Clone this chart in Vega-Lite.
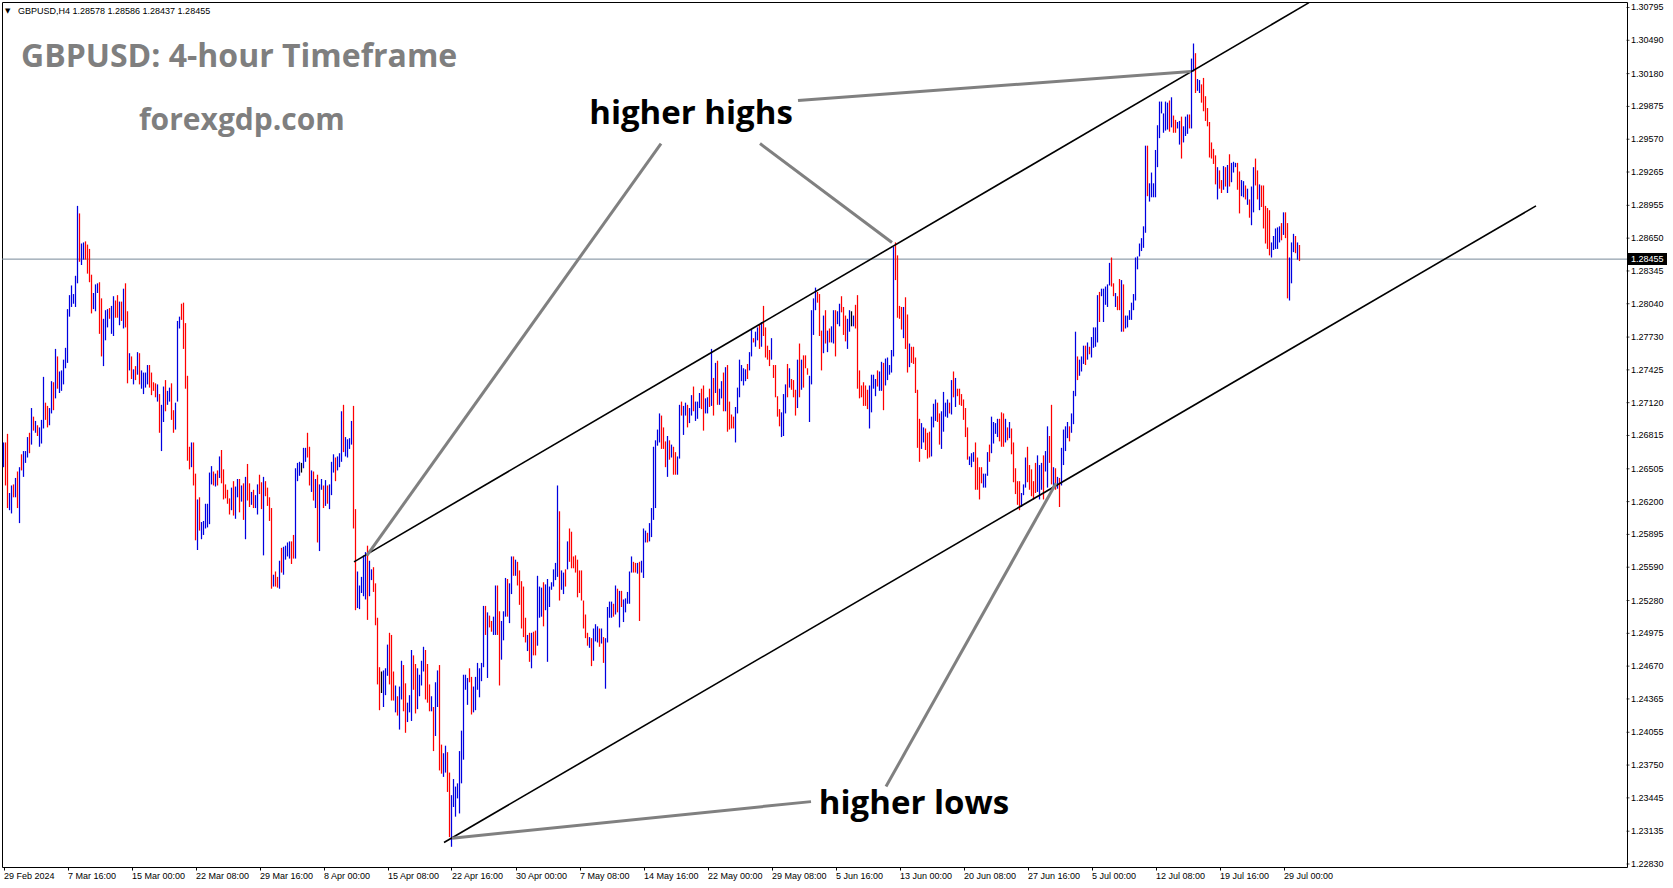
{
"$schema":"https://vega.github.io/schema/vega-lite/v6.json",
"width":1625,"height":865,
"autosize":{"type":"none"},
"padding":{"left":2,"top":2,"right":46,"bottom":21},
"background":"white",
"config":{"view":{"stroke":"#000","strokeWidth":1},"font":"Liberation Sans","axis":{"labelOverlap":false,"labelFlush":false,"labelBound":false}},
"datasets":{"bars":[
{"i":0,"h":1.2675,"l":1.2652,"t":"u"},{"i":1,"h":1.2675,"l":1.2635,"t":"d"},{"i":2,"h":1.2683,"l":1.2614,"t":"d"},{"i":3,"h":1.2628,"l":1.2612,"t":"u"},{"i":4,"h":1.2635,"l":1.2609,"t":"u"},{"i":5,"h":1.2636,"l":1.2624,"t":"d"},{"i":6,"h":1.2642,"l":1.2624,"t":"u"},{"i":7,"h":1.2648,"l":1.2614,"t":"d"},{"i":8,"h":1.2652,"l":1.2600,"t":"u"},{"i":9,"h":1.2664,"l":1.2649,"t":"d"},
{"i":10,"h":1.2667,"l":1.2643,"t":"u"},{"i":11,"h":1.2667,"l":1.2656,"t":"u"},{"i":12,"h":1.2680,"l":1.2661,"t":"u"},{"i":13,"h":1.2684,"l":1.2665,"t":"d"},{"i":14,"h":1.2707,"l":1.2673,"t":"u"},{"i":15,"h":1.2699,"l":1.2686,"t":"d"},{"i":16,"h":1.2695,"l":1.2684,"t":"u"},{"i":17,"h":1.2691,"l":1.2681,"t":"d"},{"i":18,"h":1.2689,"l":1.2671,"t":"u"},{"i":19,"h":1.2696,"l":1.2674,"t":"u"},
{"i":20,"h":1.2736,"l":1.2688,"t":"u"},{"i":21,"h":1.2712,"l":1.2696,"t":"d"},{"i":22,"h":1.2709,"l":1.2689,"t":"d"},{"i":23,"h":1.2707,"l":1.2691,"t":"u"},{"i":24,"h":1.2732,"l":1.2702,"t":"u"},{"i":25,"h":1.2731,"l":1.2705,"t":"d"},{"i":26,"h":1.2762,"l":1.2716,"t":"u"},{"i":27,"h":1.2755,"l":1.2725,"t":"d"},{"i":28,"h":1.2741,"l":1.2721,"t":"u"},{"i":29,"h":1.2742,"l":1.2723,"t":"u"},
{"i":30,"h":1.2752,"l":1.2729,"t":"u"},{"i":31,"h":1.2763,"l":1.2744,"t":"u"},{"i":32,"h":1.2799,"l":1.2749,"t":"u"},{"i":33,"h":1.2812,"l":1.2792,"t":"u"},{"i":34,"h":1.2821,"l":1.2801,"t":"u"},{"i":35,"h":1.2813,"l":1.2804,"t":"u"},{"i":36,"h":1.2830,"l":1.2801,"t":"u"},{"i":37,"h":1.2895,"l":1.2823,"t":"u"},{"i":38,"h":1.2888,"l":1.2843,"t":"d"},{"i":39,"h":1.2860,"l":1.2840,"t":"u"},
{"i":40,"h":1.2861,"l":1.2845,"t":"u"},{"i":41,"h":1.2862,"l":1.2845,"t":"d"},{"i":42,"h":1.2859,"l":1.2832,"t":"d"},{"i":43,"h":1.2855,"l":1.2824,"t":"d"},{"i":44,"h":1.2831,"l":1.2795,"t":"d"},{"i":45,"h":1.2814,"l":1.2799,"t":"u"},{"i":46,"h":1.2822,"l":1.2797,"t":"u"},{"i":47,"h":1.2823,"l":1.2814,"t":"u"},{"i":48,"h":1.2824,"l":1.2776,"t":"d"},{"i":49,"h":1.2809,"l":1.2755,"t":"d"},
{"i":50,"h":1.2790,"l":1.2746,"t":"u"},{"i":51,"h":1.2798,"l":1.2770,"t":"u"},{"i":52,"h":1.2799,"l":1.2782,"t":"u"},{"i":53,"h":1.2800,"l":1.2790,"t":"d"},{"i":54,"h":1.2802,"l":1.2776,"t":"u"},{"i":55,"h":1.2811,"l":1.2774,"t":"u"},{"i":56,"h":1.2807,"l":1.2791,"t":"d"},{"i":57,"h":1.2812,"l":1.2791,"t":"d"},{"i":58,"h":1.2806,"l":1.2784,"t":"u"},{"i":59,"h":1.2806,"l":1.2788,"t":"d"},
{"i":60,"h":1.2818,"l":1.2781,"t":"u"},{"i":61,"h":1.2823,"l":1.2782,"t":"d"},{"i":62,"h":1.2797,"l":1.2730,"t":"d"},{"i":63,"h":1.2758,"l":1.2742,"t":"u"},{"i":64,"h":1.2755,"l":1.2734,"t":"d"},{"i":65,"h":1.2743,"l":1.2729,"t":"u"},{"i":66,"h":1.2746,"l":1.2733,"t":"d"},{"i":67,"h":1.2759,"l":1.2738,"t":"u"},{"i":68,"h":1.2758,"l":1.2729,"t":"d"},{"i":69,"h":1.2742,"l":1.2725,"t":"u"},
{"i":70,"h":1.2740,"l":1.2720,"t":"u"},{"i":71,"h":1.2740,"l":1.2726,"t":"u"},{"i":72,"h":1.2747,"l":1.2729,"t":"u"},{"i":73,"h":1.2747,"l":1.2726,"t":"d"},{"i":74,"h":1.2740,"l":1.2719,"t":"d"},{"i":75,"h":1.2731,"l":1.2723,"t":"d"},{"i":76,"h":1.2730,"l":1.2717,"t":"d"},{"i":77,"h":1.2729,"l":1.2713,"t":"u"},{"i":78,"h":1.2720,"l":1.2684,"t":"d"},{"i":79,"h":1.2710,"l":1.2667,"t":"u"},
{"i":80,"h":1.2727,"l":1.2694,"t":"u"},{"i":81,"h":1.2733,"l":1.2704,"t":"d"},{"i":82,"h":1.2723,"l":1.2710,"t":"u"},{"i":83,"h":1.2726,"l":1.2713,"t":"u"},{"i":84,"h":1.2730,"l":1.2696,"t":"d"},{"i":85,"h":1.2705,"l":1.2684,"t":"d"},{"i":86,"h":1.2712,"l":1.2687,"t":"u"},{"i":87,"h":1.2788,"l":1.2713,"t":"u"},{"i":88,"h":1.2792,"l":1.2781,"t":"u"},{"i":89,"h":1.2804,"l":1.2789,"t":"d"},
{"i":90,"h":1.2805,"l":1.2762,"t":"d"},{"i":91,"h":1.2786,"l":1.2725,"t":"d"},{"i":92,"h":1.2737,"l":1.2658,"t":"d"},{"i":93,"h":1.2671,"l":1.2650,"t":"d"},{"i":94,"h":1.2675,"l":1.2652,"t":"u"},{"i":95,"h":1.2675,"l":1.2635,"t":"d"},{"i":96,"h":1.2646,"l":1.2584,"t":"d"},{"i":97,"h":1.2622,"l":1.2575,"t":"u"},{"i":98,"h":1.2624,"l":1.2593,"t":"d"},{"i":99,"h":1.2601,"l":1.2585,"t":"u"},
{"i":100,"h":1.2602,"l":1.2589,"t":"u"},{"i":101,"h":1.2618,"l":1.2595,"t":"u"},{"i":102,"h":1.2618,"l":1.2596,"t":"u"},{"i":103,"h":1.2647,"l":1.2599,"t":"u"},{"i":104,"h":1.2653,"l":1.2636,"t":"u"},{"i":105,"h":1.2648,"l":1.2635,"t":"d"},{"i":106,"h":1.2646,"l":1.2634,"t":"u"},{"i":107,"h":1.2649,"l":1.2635,"t":"d"},{"i":108,"h":1.2662,"l":1.2642,"t":"u"},{"i":109,"h":1.2668,"l":1.2637,"t":"d"},
{"i":110,"h":1.2650,"l":1.2622,"t":"d"},{"i":111,"h":1.2636,"l":1.2623,"t":"d"},{"i":112,"h":1.2631,"l":1.2618,"t":"d"},{"i":113,"h":1.2623,"l":1.2608,"t":"d"},{"i":114,"h":1.2633,"l":1.2612,"t":"u"},{"i":115,"h":1.2639,"l":1.2607,"t":"d"},{"i":116,"h":1.2634,"l":1.2604,"t":"u"},{"i":117,"h":1.2641,"l":1.2624,"t":"u"},{"i":118,"h":1.2641,"l":1.2610,"t":"d"},{"i":119,"h":1.2635,"l":1.2620,"t":"u"},
{"i":120,"h":1.2637,"l":1.2603,"t":"d"},{"i":121,"h":1.2643,"l":1.2585,"t":"u"},{"i":122,"h":1.2655,"l":1.2621,"t":"d"},{"i":123,"h":1.2637,"l":1.2615,"t":"d"},{"i":124,"h":1.2629,"l":1.2617,"t":"u"},{"i":125,"h":1.2631,"l":1.2614,"t":"d"},{"i":126,"h":1.2626,"l":1.2614,"t":"u"},{"i":127,"h":1.2636,"l":1.2608,"t":"u"},{"i":128,"h":1.2645,"l":1.2627,"t":"d"},{"i":129,"h":1.2638,"l":1.2613,"t":"d"},
{"i":130,"h":1.2643,"l":1.2570,"t":"u"},{"i":131,"h":1.2639,"l":1.2625,"t":"d"},{"i":132,"h":1.2633,"l":1.2616,"t":"d"},{"i":133,"h":1.2624,"l":1.2602,"t":"d"},{"i":134,"h":1.2614,"l":1.2539,"t":"d"},{"i":135,"h":1.2552,"l":1.2541,"t":"u"},{"i":136,"h":1.2555,"l":1.2541,"t":"d"},{"i":137,"h":1.2550,"l":1.2540,"t":"d"},{"i":138,"h":1.2565,"l":1.2539,"t":"u"},{"i":139,"h":1.2577,"l":1.2554,"t":"d"},
{"i":140,"h":1.2578,"l":1.2552,"t":"u"},{"i":141,"h":1.2579,"l":1.2566,"t":"u"},{"i":142,"h":1.2582,"l":1.2569,"t":"u"},{"i":143,"h":1.2583,"l":1.2567,"t":"u"},{"i":144,"h":1.2583,"l":1.2562,"t":"d"},{"i":145,"h":1.2589,"l":1.2567,"t":"d"},{"i":146,"h":1.2651,"l":1.2567,"t":"u"},{"i":147,"h":1.2656,"l":1.2639,"t":"u"},{"i":148,"h":1.2657,"l":1.2644,"t":"u"},{"i":149,"h":1.2656,"l":1.2647,"t":"n"},
{"i":150,"h":1.2670,"l":1.2651,"t":"u"},{"i":151,"h":1.2670,"l":1.2657,"t":"u"},{"i":152,"h":1.2684,"l":1.2661,"t":"d"},{"i":153,"h":1.2671,"l":1.2635,"t":"d"},{"i":154,"h":1.2649,"l":1.2629,"t":"u"},{"i":155,"h":1.2648,"l":1.2621,"t":"d"},{"i":156,"h":1.2641,"l":1.2614,"t":"u"},{"i":157,"h":1.2645,"l":1.2582,"t":"d"},{"i":158,"h":1.2636,"l":1.2574,"t":"u"},{"i":159,"h":1.2641,"l":1.2631,"t":"u"},
{"i":160,"h":1.2635,"l":1.2614,"t":"d"},{"i":161,"h":1.2640,"l":1.2616,"t":"u"},{"i":162,"h":1.2635,"l":1.2618,"t":"d"},{"i":163,"h":1.2636,"l":1.2613,"t":"u"},{"i":164,"h":1.2657,"l":1.2626,"t":"u"},{"i":165,"h":1.2664,"l":1.2647,"t":"u"},{"i":166,"h":1.2661,"l":1.2639,"t":"d"},{"i":167,"h":1.2662,"l":1.2649,"t":"u"},{"i":168,"h":1.2665,"l":1.2652,"t":"u"},{"i":169,"h":1.2704,"l":1.2657,"t":"u"},
{"i":170,"h":1.2710,"l":1.2666,"t":"d"},{"i":171,"h":1.2680,"l":1.2662,"t":"u"},{"i":172,"h":1.2678,"l":1.2661,"t":"u"},{"i":173,"h":1.2679,"l":1.2669,"t":"u"},{"i":174,"h":1.2695,"l":1.2673,"t":"u"},{"i":175,"h":1.2709,"l":1.2595,"t":"d"},{"i":176,"h":1.2613,"l":1.2519,"t":"d"},{"i":177,"h":1.2555,"l":1.2521,"t":"u"},{"i":178,"h":1.2542,"l":1.2520,"t":"u"},{"i":179,"h":1.2550,"l":1.2535,"t":"u"},
{"i":180,"h":1.2570,"l":1.2532,"t":"u"},{"i":181,"h":1.2573,"l":1.2529,"t":"u"},{"i":182,"h":1.2579,"l":1.2510,"t":"d"},{"i":183,"h":1.2565,"l":1.2532,"t":"u"},{"i":184,"h":1.2557,"l":1.2547,"t":"u"},{"i":185,"h":1.2559,"l":1.2536,"t":"d"},{"i":186,"h":1.2544,"l":1.2505,"t":"d"},{"i":187,"h":1.2512,"l":1.2450,"t":"d"},{"i":188,"h":1.2466,"l":1.2426,"t":"d"},{"i":189,"h":1.2462,"l":1.2442,"t":"n"},
{"i":190,"h":1.2463,"l":1.2429,"t":"u"},{"i":191,"h":1.2465,"l":1.2440,"t":"u"},{"i":192,"h":1.2487,"l":1.2458,"t":"u"},{"i":193,"h":1.2498,"l":1.2450,"t":"d"},{"i":194,"h":1.2496,"l":1.2435,"t":"d"},{"i":195,"h":1.2462,"l":1.2435,"t":"d"},{"i":196,"h":1.2449,"l":1.2424,"t":"u"},{"i":197,"h":1.2439,"l":1.2421,"t":"d"},{"i":198,"h":1.2448,"l":1.2408,"t":"u"},{"i":199,"h":1.2472,"l":1.2436,"t":"u"},
{"i":200,"h":1.2468,"l":1.2425,"t":"d"},{"i":201,"h":1.2451,"l":1.2405,"t":"d"},{"i":202,"h":1.2433,"l":1.2415,"t":"u"},{"i":203,"h":1.2440,"l":1.2424,"t":"u"},{"i":204,"h":1.2482,"l":1.2416,"t":"u"},{"i":205,"h":1.2477,"l":1.2445,"t":"d"},{"i":206,"h":1.2469,"l":1.2423,"t":"d"},{"i":207,"h":1.2465,"l":1.2427,"t":"u"},{"i":208,"h":1.2459,"l":1.2439,"t":"u"},{"i":209,"h":1.2472,"l":1.2449,"t":"u"},
{"i":210,"h":1.2485,"l":1.2462,"t":"u"},{"i":211,"h":1.2482,"l":1.2436,"t":"d"},{"i":212,"h":1.2469,"l":1.2433,"t":"d"},{"i":213,"h":1.2450,"l":1.2425,"t":"d"},{"i":214,"h":1.2439,"l":1.2425,"t":"u"},{"i":215,"h":1.2429,"l":1.2388,"t":"d"},{"i":216,"h":1.2452,"l":1.2402,"t":"u"},{"i":217,"h":1.2463,"l":1.2429,"t":"u"},{"i":218,"h":1.2468,"l":1.2370,"t":"d"},{"i":219,"h":1.2394,"l":1.2367,"t":"d"},
{"i":220,"h":1.2386,"l":1.2364,"t":"u"},{"i":221,"h":1.2393,"l":1.2368,"t":"u"},{"i":222,"h":1.2387,"l":1.2350,"t":"d"},{"i":223,"h":1.2368,"l":1.2308,"t":"d"},{"i":224,"h":1.2347,"l":1.2299,"t":"u"},{"i":225,"h":1.2362,"l":1.2336,"t":"u"},{"i":226,"h":1.2355,"l":1.2327,"t":"u"},{"i":227,"h":1.2358,"l":1.2344,"t":"u"},{"i":228,"h":1.2388,"l":1.2330,"t":"u"},{"i":229,"h":1.2407,"l":1.2358,"t":"u"},
{"i":230,"h":1.2459,"l":1.2380,"t":"u"},{"i":231,"h":1.2459,"l":1.2445,"t":"u"},{"i":232,"h":1.2456,"l":1.2431,"t":"u"},{"i":233,"h":1.2465,"l":1.2452,"t":"d"},{"i":234,"h":1.2457,"l":1.2422,"t":"d"},{"i":235,"h":1.2448,"l":1.2424,"t":"u"},{"i":236,"h":1.2457,"l":1.2426,"t":"u"},{"i":237,"h":1.2470,"l":1.2445,"t":"u"},{"i":238,"h":1.2465,"l":1.2438,"t":"u"},{"i":239,"h":1.2470,"l":1.2453,"t":"u"},
{"i":240,"h":1.2523,"l":1.2466,"t":"u"},{"i":241,"h":1.2523,"l":1.2496,"t":"d"},{"i":242,"h":1.2517,"l":1.2456,"t":"u"},{"i":243,"h":1.2514,"l":1.2503,"t":"d"},{"i":244,"h":1.2509,"l":1.2499,"t":"d"},{"i":245,"h":1.2513,"l":1.2496,"t":"u"},{"i":246,"h":1.2542,"l":1.2496,"t":"u"},{"i":247,"h":1.2542,"l":1.2496,"t":"d"},{"i":248,"h":1.2518,"l":1.2449,"t":"d"},{"i":249,"h":1.2509,"l":1.2473,"t":"u"},
{"i":250,"h":1.2518,"l":1.2491,"t":"u"},{"i":251,"h":1.2549,"l":1.2513,"t":"u"},{"i":252,"h":1.2548,"l":1.2513,"t":"d"},{"i":253,"h":1.2544,"l":1.2507,"t":"u"},{"i":254,"h":1.2569,"l":1.2534,"t":"u"},{"i":255,"h":1.2569,"l":1.2551,"t":"d"},{"i":256,"h":1.2566,"l":1.2551,"t":"u"},{"i":257,"h":1.2564,"l":1.2542,"t":"d"},{"i":258,"h":1.2556,"l":1.2524,"t":"d"},{"i":259,"h":1.2546,"l":1.2502,"t":"d"},
{"i":260,"h":1.2541,"l":1.2494,"t":"d"},{"i":261,"h":1.2512,"l":1.2489,"t":"d"},{"i":262,"h":1.2496,"l":1.2481,"t":"u"},{"i":263,"h":1.2498,"l":1.2471,"t":"d"},{"i":264,"h":1.2498,"l":1.2465,"t":"u"},{"i":265,"h":1.2499,"l":1.2477,"t":"d"},{"i":266,"h":1.2500,"l":1.2477,"t":"d"},{"i":267,"h":1.2551,"l":1.2486,"t":"u"},{"i":268,"h":1.2541,"l":1.2512,"t":"u"},{"i":269,"h":1.2540,"l":1.2513,"t":"u"},
{"i":270,"h":1.2545,"l":1.2504,"t":"d"},{"i":271,"h":1.2543,"l":1.2519,"t":"u"},{"i":272,"h":1.2548,"l":1.2471,"t":"u"},{"i":273,"h":1.2541,"l":1.2522,"t":"u"},{"i":274,"h":1.2545,"l":1.2538,"t":"u"},{"i":275,"h":1.2557,"l":1.2541,"t":"u"},{"i":276,"h":1.2563,"l":1.2547,"t":"u"},{"i":277,"h":1.2635,"l":1.2550,"t":"u"},{"i":278,"h":1.2611,"l":1.2528,"t":"d"},{"i":279,"h":1.2556,"l":1.2538,"t":"u"},
{"i":280,"h":1.2554,"l":1.2534,"t":"u"},{"i":281,"h":1.2557,"l":1.2541,"t":"d"},{"i":282,"h":1.2583,"l":1.2557,"t":"u"},{"i":283,"h":1.2595,"l":1.2564,"t":"d"},{"i":284,"h":1.2592,"l":1.2558,"t":"d"},{"i":285,"h":1.2569,"l":1.2558,"t":"d"},{"i":286,"h":1.2570,"l":1.2554,"t":"d"},{"i":287,"h":1.2566,"l":1.2531,"t":"d"},{"i":288,"h":1.2556,"l":1.2535,"t":"d"},{"i":289,"h":1.2556,"l":1.2528,"t":"d"},
{"i":290,"h":1.2528,"l":1.2502,"t":"d"},{"i":291,"h":1.2515,"l":1.2493,"t":"d"},{"i":292,"h":1.2498,"l":1.2486,"t":"d"},{"i":293,"h":1.2494,"l":1.2484,"t":"u"},{"i":294,"h":1.2493,"l":1.2467,"t":"d"},{"i":295,"h":1.2502,"l":1.2472,"t":"u"},{"i":296,"h":1.2506,"l":1.2490,"t":"u"},{"i":297,"h":1.2504,"l":1.2489,"t":"u"},{"i":298,"h":1.2502,"l":1.2485,"t":"d"},{"i":299,"h":1.2502,"l":1.2488,"t":"u"},
{"i":300,"h":1.2494,"l":1.2470,"t":"d"},{"i":301,"h":1.2493,"l":1.2446,"t":"u"},{"i":302,"h":1.2522,"l":1.2489,"t":"u"},{"i":303,"h":1.2527,"l":1.2512,"t":"u"},{"i":304,"h":1.2527,"l":1.2512,"t":"u"},{"i":305,"h":1.2525,"l":1.2513,"t":"d"},{"i":306,"h":1.2542,"l":1.2515,"t":"u"},{"i":307,"h":1.2539,"l":1.2517,"t":"d"},{"i":308,"h":1.2537,"l":1.2503,"t":"u"},{"i":309,"h":1.2537,"l":1.2522,"t":"d"},
{"i":310,"h":1.2529,"l":1.2508,"t":"u"},{"i":311,"h":1.2530,"l":1.2517,"t":"u"},{"i":312,"h":1.2536,"l":1.2525,"t":"u"},{"i":313,"h":1.2555,"l":1.2525,"t":"u"},{"i":314,"h":1.2569,"l":1.2554,"t":"u"},{"i":315,"h":1.2564,"l":1.2554,"t":"d"},{"i":316,"h":1.2563,"l":1.2554,"t":"d"},{"i":317,"h":1.2563,"l":1.2553,"t":"u"},{"i":318,"h":1.2564,"l":1.2509,"t":"d"},{"i":319,"h":1.2565,"l":1.2554,"t":"u"},
{"i":320,"h":1.2595,"l":1.2549,"t":"u"},{"i":321,"h":1.2593,"l":1.2582,"t":"u"},{"i":322,"h":1.2591,"l":1.2582,"t":"d"},{"i":323,"h":1.2600,"l":1.2583,"t":"u"},{"i":324,"h":1.2614,"l":1.2587,"t":"u"},{"i":325,"h":1.2671,"l":1.2603,"t":"u"},{"i":326,"h":1.2677,"l":1.2614,"t":"u"},{"i":327,"h":1.2687,"l":1.2672,"t":"u"},{"i":328,"h":1.2702,"l":1.2675,"t":"u"},{"i":329,"h":1.2700,"l":1.2669,"t":"d"},
{"i":330,"h":1.2689,"l":1.2669,"t":"d"},{"i":331,"h":1.2676,"l":1.2652,"t":"d"},{"i":332,"h":1.2681,"l":1.2643,"t":"u"},{"i":333,"h":1.2677,"l":1.2659,"t":"d"},{"i":334,"h":1.2673,"l":1.2661,"t":"u"},{"i":335,"h":1.2671,"l":1.2645,"t":"d"},{"i":336,"h":1.2666,"l":1.2645,"t":"d"},{"i":337,"h":1.2662,"l":1.2645,"t":"u"},{"i":338,"h":1.2710,"l":1.2660,"t":"u"},{"i":339,"h":1.2713,"l":1.2700,"t":"d"},
{"i":340,"h":1.2709,"l":1.2682,"t":"u"},{"i":341,"h":1.2712,"l":1.2700,"t":"u"},{"i":342,"h":1.2710,"l":1.2689,"t":"d"},{"i":343,"h":1.2707,"l":1.2693,"t":"u"},{"i":344,"h":1.2719,"l":1.2700,"t":"u"},{"i":345,"h":1.2727,"l":1.2704,"t":"d"},{"i":346,"h":1.2713,"l":1.2695,"t":"u"},{"i":347,"h":1.2713,"l":1.2697,"t":"u"},{"i":348,"h":1.2721,"l":1.2707,"t":"u"},{"i":349,"h":1.2725,"l":1.2706,"t":"d"},
{"i":350,"h":1.2728,"l":1.2686,"t":"d"},{"i":351,"h":1.2716,"l":1.2702,"t":"u"},{"i":352,"h":1.2717,"l":1.2702,"t":"u"},{"i":353,"h":1.2725,"l":1.2708,"t":"d"},{"i":354,"h":1.2762,"l":1.2709,"t":"u"},{"i":355,"h":1.2735,"l":1.2700,"t":"d"},{"i":356,"h":1.2749,"l":1.2721,"t":"u"},{"i":357,"h":1.2751,"l":1.2710,"t":"d"},{"i":358,"h":1.2725,"l":1.2710,"t":"u"},{"i":359,"h":1.2732,"l":1.2716,"t":"u"},
{"i":360,"h":1.2740,"l":1.2704,"t":"d"},{"i":361,"h":1.2745,"l":1.2704,"t":"u"},{"i":362,"h":1.2747,"l":1.2685,"t":"d"},{"i":363,"h":1.2713,"l":1.2687,"t":"d"},{"i":364,"h":1.2701,"l":1.2688,"t":"d"},{"i":365,"h":1.2699,"l":1.2688,"t":"d"},{"i":366,"h":1.2708,"l":1.2675,"t":"u"},{"i":367,"h":1.2726,"l":1.2702,"t":"u"},{"i":368,"h":1.2752,"l":1.2717,"t":"u"},{"i":369,"h":1.2747,"l":1.2732,"t":"u"},
{"i":370,"h":1.2744,"l":1.2728,"t":"u"},{"i":371,"h":1.2743,"l":1.2732,"t":"u"},{"i":372,"h":1.2748,"l":1.2734,"t":"d"},{"i":373,"h":1.2759,"l":1.2742,"t":"u"},{"i":374,"h":1.2780,"l":1.2755,"t":"u"},{"i":375,"h":1.2772,"l":1.2768,"t":"d"},{"i":376,"h":1.2778,"l":1.2764,"t":"u"},{"i":377,"h":1.2782,"l":1.2770,"t":"u"},{"i":378,"h":1.2785,"l":1.2762,"t":"d"},{"i":379,"h":1.2787,"l":1.2764,"t":"u"},
{"i":380,"h":1.2802,"l":1.2774,"t":"d"},{"i":381,"h":1.2782,"l":1.2754,"t":"d"},{"i":382,"h":1.2765,"l":1.2752,"t":"d"},{"i":383,"h":1.2761,"l":1.2746,"t":"d"},{"i":384,"h":1.2772,"l":1.2752,"t":"u"},{"i":385,"h":1.2747,"l":1.2735,"t":"d"},{"i":386,"h":1.2747,"l":1.2717,"t":"d"},{"i":387,"h":1.2718,"l":1.2699,"t":"d"},{"i":388,"h":1.2706,"l":1.2690,"t":"d"},{"i":389,"h":1.2703,"l":1.2680,"t":"u"},
{"i":390,"h":1.2720,"l":1.2681,"t":"u"},{"i":391,"h":1.2729,"l":1.2702,"t":"u"},{"i":392,"h":1.2748,"l":1.2717,"t":"d"},{"i":393,"h":1.2744,"l":1.2726,"t":"u"},{"i":394,"h":1.2734,"l":1.2724,"t":"d"},{"i":395,"h":1.2733,"l":1.2717,"t":"d"},{"i":396,"h":1.2724,"l":1.2700,"t":"d"},{"i":397,"h":1.2752,"l":1.2707,"t":"u"},{"i":398,"h":1.2767,"l":1.2717,"t":"d"},{"i":399,"h":1.2752,"l":1.2724,"t":"u"},
{"i":400,"h":1.2756,"l":1.2726,"t":"d"},{"i":401,"h":1.2756,"l":1.2744,"t":"d"},{"i":402,"h":1.2744,"l":1.2738,"t":"d"},{"i":403,"h":1.2737,"l":1.2694,"t":"u"},{"i":404,"h":1.2798,"l":1.2729,"t":"u"},{"i":405,"h":1.2809,"l":1.2775,"t":"u"},{"i":406,"h":1.2819,"l":1.2798,"t":"u"},{"i":407,"h":1.2815,"l":1.2805,"t":"d"},{"i":408,"h":1.2813,"l":1.2774,"t":"d"},{"i":409,"h":1.2779,"l":1.2742,"t":"d"},
{"i":410,"h":1.2793,"l":1.2758,"t":"u"},{"i":411,"h":1.2798,"l":1.2767,"t":"d"},{"i":412,"h":1.2779,"l":1.2759,"t":"u"},{"i":413,"h":1.2781,"l":1.2768,"t":"d"},{"i":414,"h":1.2783,"l":1.2768,"t":"u"},{"i":415,"h":1.2798,"l":1.2767,"t":"u"},{"i":416,"h":1.2798,"l":1.2755,"t":"d"},{"i":417,"h":1.2797,"l":1.2785,"t":"u"},{"i":418,"h":1.2804,"l":1.2783,"t":"u"},{"i":419,"h":1.2811,"l":1.2796,"t":"d"},
{"i":420,"h":1.2801,"l":1.2775,"t":"d"},{"i":421,"h":1.2793,"l":1.2769,"t":"d"},{"i":422,"h":1.2790,"l":1.2762,"t":"u"},{"i":423,"h":1.2798,"l":1.2778,"t":"u"},{"i":424,"h":1.2797,"l":1.2783,"t":"n"},{"i":425,"h":1.2793,"l":1.2783,"t":"u"},{"i":426,"h":1.2803,"l":1.2781,"t":"d"},{"i":427,"h":1.2812,"l":1.2725,"t":"d"},{"i":428,"h":1.2742,"l":1.2716,"t":"d"},{"i":429,"h":1.2728,"l":1.2717,"t":"d"},
{"i":430,"h":1.2731,"l":1.2709,"t":"d"},{"i":431,"h":1.2728,"l":1.2709,"t":"d"},{"i":432,"h":1.2724,"l":1.2706,"t":"d"},{"i":433,"h":1.2728,"l":1.2688,"t":"u"},{"i":434,"h":1.2738,"l":1.2703,"t":"u"},{"i":435,"h":1.2738,"l":1.2725,"t":"u"},{"i":436,"h":1.2734,"l":1.2718,"t":"u"},{"i":437,"h":1.2742,"l":1.2727,"t":"d"},{"i":438,"h":1.2741,"l":1.2723,"t":"u"},{"i":439,"h":1.2750,"l":1.2723,"t":"u"},
{"i":440,"h":1.2749,"l":1.2705,"t":"d"},{"i":441,"h":1.2753,"l":1.2728,"t":"u"},{"i":442,"h":1.2754,"l":1.2733,"t":"u"},{"i":443,"h":1.2747,"l":1.2738,"t":"u"},{"i":444,"h":1.2761,"l":1.2740,"t":"u"},{"i":445,"h":1.2857,"l":1.2755,"t":"u"},{"i":446,"h":1.2861,"l":1.2826,"t":"d"},{"i":447,"h":1.2849,"l":1.2791,"t":"d"},{"i":448,"h":1.2802,"l":1.2790,"t":"d"},{"i":449,"h":1.2801,"l":1.2780,"t":"d"},
{"i":450,"h":1.2801,"l":1.2772,"t":"u"},{"i":451,"h":1.2810,"l":1.2762,"t":"d"},{"i":452,"h":1.2794,"l":1.2740,"t":"d"},{"i":453,"h":1.2767,"l":1.2745,"t":"u"},{"i":454,"h":1.2764,"l":1.2749,"t":"d"},{"i":455,"h":1.2764,"l":1.2748,"t":"d"},{"i":456,"h":1.2754,"l":1.2721,"t":"d"},{"i":457,"h":1.2724,"l":1.2670,"t":"d"},{"i":458,"h":1.2697,"l":1.2657,"t":"d"},{"i":459,"h":1.2693,"l":1.2669,"t":"u"},
{"i":460,"h":1.2689,"l":1.2675,"t":"u"},{"i":461,"h":1.2688,"l":1.2668,"t":"d"},{"i":462,"h":1.2684,"l":1.2660,"t":"d"},{"i":463,"h":1.2685,"l":1.2661,"t":"d"},{"i":464,"h":1.2699,"l":1.2662,"t":"u"},{"i":465,"h":1.2711,"l":1.2689,"t":"u"},{"i":466,"h":1.2715,"l":1.2695,"t":"u"},{"i":467,"h":1.2712,"l":1.2694,"t":"d"},{"i":468,"h":1.2702,"l":1.2673,"t":"d"},{"i":469,"h":1.2704,"l":1.2669,"t":"u"},
{"i":470,"h":1.2722,"l":1.2685,"t":"u"},{"i":471,"h":1.2712,"l":1.2699,"t":"u"},{"i":472,"h":1.2715,"l":1.2698,"t":"u"},{"i":473,"h":1.2712,"l":1.2702,"t":"d"},{"i":474,"h":1.2733,"l":1.2701,"t":"u"},{"i":475,"h":1.2741,"l":1.2717,"t":"d"},{"i":476,"h":1.2735,"l":1.2708,"t":"u"},{"i":477,"h":1.2725,"l":1.2718,"t":"d"},{"i":478,"h":1.2725,"l":1.2710,"t":"d"},{"i":479,"h":1.2720,"l":1.2709,"t":"d"},
{"i":480,"h":1.2715,"l":1.2696,"t":"d"},{"i":481,"h":1.2707,"l":1.2680,"t":"d"},{"i":482,"h":1.2689,"l":1.2659,"t":"d"},{"i":483,"h":1.2662,"l":1.2654,"t":"u"},{"i":484,"h":1.2665,"l":1.2652,"t":"u"},{"i":485,"h":1.2666,"l":1.2657,"t":"u"},{"i":486,"h":1.2675,"l":1.2631,"t":"d"},{"i":487,"h":1.2661,"l":1.2631,"t":"d"},{"i":488,"h":1.2652,"l":1.2622,"t":"d"},{"i":489,"h":1.2652,"l":1.2637,"t":"d"},
{"i":490,"h":1.2646,"l":1.2633,"t":"u"},{"i":491,"h":1.2646,"l":1.2633,"t":"u"},{"i":492,"h":1.2666,"l":1.2644,"t":"u"},{"i":493,"h":1.2673,"l":1.2657,"t":"d"},{"i":494,"h":1.2699,"l":1.2665,"t":"u"},{"i":495,"h":1.2694,"l":1.2674,"t":"u"},{"i":496,"h":1.2693,"l":1.2683,"t":"u"},{"i":497,"h":1.2697,"l":1.2680,"t":"u"},{"i":498,"h":1.2697,"l":1.2676,"t":"d"},{"i":499,"h":1.2703,"l":1.2671,"t":"d"},
{"i":500,"h":1.2702,"l":1.2671,"t":"d"},{"i":501,"h":1.2697,"l":1.2675,"t":"u"},{"i":502,"h":1.2689,"l":1.2677,"t":"d"},{"i":503,"h":1.2694,"l":1.2679,"t":"u"},{"i":504,"h":1.2688,"l":1.2664,"t":"d"},{"i":505,"h":1.2675,"l":1.2638,"t":"d"},{"i":506,"h":1.2651,"l":1.2627,"t":"d"},{"i":507,"h":1.2639,"l":1.2617,"t":"d"},{"i":508,"h":1.2639,"l":1.2612,"t":"d"},{"i":509,"h":1.2628,"l":1.2615,"t":"u"},
{"i":510,"h":1.2636,"l":1.2626,"t":"u"},{"i":511,"h":1.2661,"l":1.2633,"t":"u"},{"i":512,"h":1.2671,"l":1.2638,"t":"d"},{"i":513,"h":1.2654,"l":1.2631,"t":"d"},{"i":514,"h":1.2650,"l":1.2625,"t":"d"},{"i":515,"h":1.2639,"l":1.2622,"t":"d"},{"i":516,"h":1.2656,"l":1.2628,"t":"d"},{"i":517,"h":1.2663,"l":1.2629,"t":"u"},{"i":518,"h":1.2654,"l":1.2622,"t":"u"},{"i":519,"h":1.2656,"l":1.2631,"t":"u"},
{"i":520,"h":1.2663,"l":1.2622,"t":"d"},{"i":521,"h":1.2667,"l":1.2648,"t":"u"},{"i":522,"h":1.2690,"l":1.2633,"t":"u"},{"i":523,"h":1.2681,"l":1.2656,"t":"d"},{"i":524,"h":1.2710,"l":1.2636,"t":"d"},{"i":525,"h":1.2652,"l":1.2633,"t":"u"},{"i":526,"h":1.2651,"l":1.2631,"t":"d"},{"i":527,"h":1.2643,"l":1.2632,"t":"u"},{"i":528,"h":1.2642,"l":1.2615,"t":"d"},{"i":529,"h":1.2670,"l":1.2635,"t":"u"},
{"i":530,"h":1.2687,"l":1.2654,"t":"u"},{"i":531,"h":1.2690,"l":1.2667,"t":"u"},{"i":532,"h":1.2694,"l":1.2679,"t":"u"},{"i":533,"h":1.2690,"l":1.2676,"t":"d"},{"i":534,"h":1.2702,"l":1.2684,"t":"u"},{"i":535,"h":1.2723,"l":1.2692,"t":"u"},{"i":536,"h":1.2778,"l":1.2718,"t":"u"},{"i":537,"h":1.2755,"l":1.2733,"t":"d"},{"i":538,"h":1.2752,"l":1.2737,"t":"u"},{"i":539,"h":1.2755,"l":1.2741,"t":"u"},
{"i":540,"h":1.2765,"l":1.2748,"t":"u"},{"i":541,"h":1.2765,"l":1.2747,"t":"d"},{"i":542,"h":1.2768,"l":1.2752,"t":"u"},{"i":543,"h":1.2764,"l":1.2757,"t":"d"},{"i":544,"h":1.2773,"l":1.2754,"t":"u"},{"i":545,"h":1.2782,"l":1.2763,"t":"u"},{"i":546,"h":1.2782,"l":1.2764,"t":"u"},{"i":547,"h":1.2812,"l":1.2768,"t":"u"},{"i":548,"h":1.2815,"l":1.2787,"t":"d"},{"i":549,"h":1.2818,"l":1.2811,"t":"u"},
{"i":550,"h":1.2818,"l":1.2787,"t":"u"},{"i":551,"h":1.2820,"l":1.2803,"t":"u"},{"i":552,"h":1.2822,"l":1.2801,"t":"u"},{"i":553,"h":1.2842,"l":1.2821,"t":"u"},{"i":554,"h":1.2847,"l":1.2820,"t":"d"},{"i":555,"h":1.2823,"l":1.2811,"t":"d"},{"i":556,"h":1.2814,"l":1.2801,"t":"u"},{"i":557,"h":1.2811,"l":1.2798,"t":"d"},{"i":558,"h":1.2827,"l":1.2798,"t":"d"},{"i":559,"h":1.2826,"l":1.2778,"t":"u"},
{"i":560,"h":1.2822,"l":1.2778,"t":"d"},{"i":561,"h":1.2793,"l":1.2781,"t":"u"},{"i":562,"h":1.2793,"l":1.2782,"t":"u"},{"i":563,"h":1.2798,"l":1.2789,"t":"u"},{"i":564,"h":1.2805,"l":1.2789,"t":"u"},{"i":565,"h":1.2813,"l":1.2798,"t":"u"},{"i":566,"h":1.2847,"l":1.2807,"t":"u"},{"i":567,"h":1.2848,"l":1.2836,"t":"u"},{"i":568,"h":1.2860,"l":1.2848,"t":"u"},{"i":569,"h":1.2865,"l":1.2853,"t":"u"},
{"i":570,"h":1.2876,"l":1.2856,"t":"u"},{"i":571,"h":1.2951,"l":1.2870,"t":"u"},{"i":572,"h":1.2951,"l":1.2904,"t":"d"},{"i":573,"h":1.2916,"l":1.2899,"t":"u"},{"i":574,"h":1.2926,"l":1.2903,"t":"u"},{"i":575,"h":1.2916,"l":1.2903,"t":"u"},{"i":576,"h":1.2947,"l":1.2903,"t":"u"},{"i":577,"h":1.2970,"l":1.2931,"t":"u"},{"i":578,"h":1.2992,"l":1.2958,"t":"u"},{"i":579,"h":1.2992,"l":1.2981,"t":"u"},
{"i":580,"h":1.2981,"l":1.2963,"t":"u"},{"i":581,"h":1.2992,"l":1.2965,"t":"u"},{"i":582,"h":1.2991,"l":1.2966,"t":"u"},{"i":583,"h":1.2993,"l":1.2964,"t":"d"},{"i":584,"h":1.2996,"l":1.2968,"t":"u"},{"i":585,"h":1.2979,"l":1.2963,"t":"d"},{"i":586,"h":1.2975,"l":1.2963,"t":"d"},{"i":587,"h":1.2973,"l":1.2967,"t":"u"},{"i":588,"h":1.2974,"l":1.2952,"t":"u"},{"i":589,"h":1.2978,"l":1.2939,"t":"d"},
{"i":590,"h":1.2969,"l":1.2954,"t":"u"},{"i":591,"h":1.2978,"l":1.2960,"t":"u"},{"i":592,"h":1.2980,"l":1.2962,"t":"u"},{"i":593,"h":1.2980,"l":1.2967,"t":"d"},{"i":594,"h":1.3032,"l":1.2967,"t":"u"},{"i":595,"h":1.3046,"l":1.3020,"t":"u"},{"i":596,"h":1.3037,"l":1.3000,"t":"d"},{"i":597,"h":1.3013,"l":1.3002,"t":"u"},{"i":598,"h":1.3012,"l":1.3000,"t":"u"},{"i":599,"h":1.3008,"l":1.2991,"t":"d"},
{"i":600,"h":1.3014,"l":1.2983,"t":"d"},{"i":601,"h":1.2997,"l":1.2974,"t":"d"},{"i":602,"h":1.2986,"l":1.2969,"t":"d"},{"i":603,"h":1.2973,"l":1.2940,"t":"d"},{"i":604,"h":1.2954,"l":1.2939,"t":"d"},{"i":605,"h":1.2948,"l":1.2934,"t":"d"},{"i":606,"h":1.2942,"l":1.2915,"t":"d"},{"i":607,"h":1.2931,"l":1.2901,"t":"u"},{"i":608,"h":1.2928,"l":1.2911,"t":"d"},{"i":609,"h":1.2919,"l":1.2907,"t":"d"},
{"i":610,"h":1.2932,"l":1.2910,"t":"u"},{"i":611,"h":1.2931,"l":1.2913,"t":"d"},{"i":612,"h":1.2933,"l":1.2907,"t":"u"},{"i":613,"h":1.2943,"l":1.2913,"t":"d"},{"i":614,"h":1.2935,"l":1.2917,"t":"u"},{"i":615,"h":1.2936,"l":1.2926,"t":"u"},{"i":616,"h":1.2935,"l":1.2931,"t":"u"},{"i":617,"h":1.2935,"l":1.2910,"t":"d"},{"i":618,"h":1.2927,"l":1.2888,"t":"d"},{"i":619,"h":1.2919,"l":1.2904,"t":"u"},
{"i":620,"h":1.2918,"l":1.2903,"t":"u"},{"i":621,"h":1.2914,"l":1.2901,"t":"d"},{"i":622,"h":1.2911,"l":1.2896,"t":"u"},{"i":623,"h":1.2901,"l":1.2884,"t":"d"},{"i":624,"h":1.2913,"l":1.2877,"t":"u"},{"i":625,"h":1.2931,"l":1.2889,"t":"u"},{"i":626,"h":1.2939,"l":1.2914,"t":"d"},{"i":627,"h":1.2928,"l":1.2901,"t":"d"},{"i":628,"h":1.2915,"l":1.2891,"t":"u"},{"i":629,"h":1.2914,"l":1.2894,"t":"d"},
{"i":630,"h":1.2914,"l":1.2874,"t":"d"},{"i":631,"h":1.2895,"l":1.2860,"t":"d"},{"i":632,"h":1.2893,"l":1.2855,"t":"d"},{"i":633,"h":1.2891,"l":1.2849,"t":"d"},{"i":634,"h":1.2861,"l":1.2847,"t":"u"},{"i":635,"h":1.2867,"l":1.2854,"t":"u"},{"i":636,"h":1.2874,"l":1.2855,"t":"u"},{"i":637,"h":1.2875,"l":1.2855,"t":"u"},{"i":638,"h":1.2876,"l":1.2861,"t":"u"},{"i":639,"h":1.2879,"l":1.2863,"t":"d"},
{"i":640,"h":1.2889,"l":1.2868,"t":"u"},{"i":641,"h":1.2889,"l":1.2865,"t":"d"},{"i":642,"h":1.2879,"l":1.2809,"t":"d"},{"i":643,"h":1.2847,"l":1.2807,"t":"u"},{"i":644,"h":1.2861,"l":1.2823,"t":"u"},{"i":645,"h":1.2869,"l":1.2852,"t":"u"},{"i":646,"h":1.2867,"l":1.2851,"t":"d"},{"i":647,"h":1.2861,"l":1.2845,"t":"u"},{"i":648,"h":1.28586,"l":1.28437,"t":"d"}
],
"yticks":[{"v":1.30795},{"v":1.3049},{"v":1.3018},{"v":1.29875},{"v":1.2957},{"v":1.29265},{"v":1.28955},{"v":1.2865},{"v":1.28345},{"v":1.2804},{"v":1.2773},{"v":1.27425},{"v":1.2712},{"v":1.26815},{"v":1.26505},{"v":1.262},{"v":1.25895},{"v":1.2559},{"v":1.2528},{"v":1.24975},{"v":1.2467},{"v":1.24365},{"v":1.24055},{"v":1.2375},{"v":1.23445},{"v":1.23135},{"v":1.2283}]},
"layer":[
{"data":{"values":[{"p":1.28455}]},"mark":{"type":"rule","color":"#778899","strokeWidth":1},
 "encoding":{"y":{"field":"p","type":"quantitative","scale":{"domain":[1.22802,1.30846],"nice":false,"zero":false},"axis":null}}},
{"data":{"name":"bars"},"mark":{"type":"rule","strokeWidth":1.25},
 "encoding":{
  "x":{"field":"i","type":"quantitative","scale":{"domain":[-0.75,811.75],"nice":false,"zero":false},
   "axis":{"values":[0,32,64,96,128,160,192,224,256,288,320,352,384,416,448,480,512,544,576,608,640],
    "labelExpr":"['29 Feb 2024','7 Mar 16:00','15 Mar 00:00','22 Mar 08:00','29 Mar 16:00','8 Apr 00:00','15 Apr 08:00','22 Apr 16:00','30 Apr 00:00','7 May 08:00','14 May 16:00','22 May 00:00','29 May 08:00','5 Jun 16:00','13 Jun 00:00','20 Jun 08:00','27 Jun 16:00','5 Jul 00:00','12 Jul 08:00','19 Jul 16:00','29 Jul 00:00'][round(datum.value/32)]",
    "labelAlign":"left","labelFont":"Liberation Sans","labelFontSize":9,"labelColor":"#000","tickColor":"#000","tickSize":3,"labelPadding":1,"domain":false,"grid":false,"title":null,"labelOverlap":false,"labelFlush":false,"labelBound":false}},
  "y":{"field":"l","type":"quantitative","axis":null},
  "y2":{"field":"h"},
  "color":{"field":"t","type":"nominal","scale":{"domain":["u","d","n"],"range":["#0000e0","#ff0000","#000000"]},"legend":null}}},
{"data":{"name":"yticks"},"mark":{"type":"tick","orient":"horizontal","size":3,"thickness":1,"color":"#000","xOffset":1},
 "encoding":{"x":{"datum":811.75,"type":"quantitative"},"y":{"field":"v","type":"quantitative"}}},
{"data":{"name":"yticks"},"mark":{"type":"text","font":"Liberation Sans","fontSize":9,"color":"#000","align":"left","baseline":"middle","dx":4},
 "encoding":{"x":{"datum":811.75,"type":"quantitative"},"y":{"field":"v","type":"quantitative"},"text":{"field":"v","type":"quantitative","format":".5f"}}},
{"data":{"values":[{"g":"a","i":175.25,"p":1.2564},{"g":"a","i":652.75,"p":1.3084},{"g":"b","i":220.25,"p":1.2303},{"g":"b","i":766.25,"p":1.2895}]},
 "mark":{"type":"line","color":"#000","strokeWidth":1.6},
 "encoding":{"x":{"field":"i","type":"quantitative"},"y":{"field":"p","type":"quantitative"},"detail":{"field":"g"}}},
{"data":{"values":[{"g":"a","i":181.75,"p":1.2570},{"g":"a","i":328.75,"p":1.2953},{"g":"b","i":378.25,"p":1.2953},{"g":"b","i":444.25,"p":1.2861},{"g":"c","i":397.25,"p":1.2993},{"g":"c","i":593.75,"p":1.3020},{"g":"d","i":403.75,"p":1.2341},{"g":"d","i":224.25,"p":1.2307},{"g":"e","i":441.25,"p":1.2355},{"g":"e","i":526.25,"p":1.2637}]},
 "mark":{"type":"line","color":"#808080","strokeWidth":3},
 "encoding":{"x":{"field":"i","type":"quantitative"},"y":{"field":"p","type":"quantitative"},"detail":{"field":"g"}}},
{"data":{"values":[{"s":"higher highs","i":343.75,"p":1.2980},{"s":"higher lows","i":455.25,"p":1.2339}]},
 "mark":{"type":"text","font":"Open Sans","fontWeight":"bold","fontSize":33,"color":"#000","align":"center","baseline":"middle"},
 "encoding":{"x":{"field":"i","type":"quantitative"},"y":{"field":"p","type":"quantitative"},"text":{"field":"s"}}},
{"data":{"values":[{"s":"GBPUSD: 4-hour Timeframe","i":8.75,"p":1.3033}]},
 "mark":{"type":"text","font":"Open Sans","fontWeight":"bold","fontSize":32,"color":"#7f7f7f","align":"left","baseline":"middle"},
 "encoding":{"x":{"field":"i","type":"quantitative"},"y":{"field":"p","type":"quantitative"},"text":{"field":"s"}}},
{"data":{"values":[{"s":"forexgdp.com","i":67.75,"p":1.2974}]},
 "mark":{"type":"text","font":"Open Sans","fontWeight":"bold","fontSize":30,"color":"#7f7f7f","align":"left","baseline":"middle"},
 "encoding":{"x":{"field":"i","type":"quantitative"},"y":{"field":"p","type":"quantitative"},"text":{"field":"s"}}},
{"data":{"values":[{"s":"GBPUSD,H4  1.28578 1.28586 1.28437 1.28455","i":7.25,"p":1.3076}]},
 "mark":{"type":"text","font":"Liberation Sans","fontSize":9,"color":"#000","align":"left","baseline":"middle"},
 "encoding":{"x":{"field":"i","type":"quantitative"},"y":{"field":"p","type":"quantitative"},"text":{"field":"s"}}},
{"data":{"values":[{"s":"▼","i":0.75,"p":1.3076}]},
 "mark":{"type":"text","font":"DejaVu Sans","fontSize":7,"color":"#000","align":"left","baseline":"middle"},
 "encoding":{"x":{"field":"i","type":"quantitative"},"y":{"field":"p","type":"quantitative"},"text":{"field":"s"}}},
{"data":{"values":[{"p":1.28455,"s":"1.28455"}]},
 "mark":{"type":"point","shape":"M0,-0.15H1V0.15H0Z","size":6400,"filled":true,"color":"#000","opacity":1,"strokeWidth":0},
 "encoding":{"x":{"datum":811.75,"type":"quantitative"},"y":{"field":"p","type":"quantitative"}}},
{"data":{"values":[{"p":1.28455,"s":"1.28455"}]},
 "mark":{"type":"text","font":"Liberation Sans","fontSize":9,"color":"#fff","align":"left","baseline":"middle","dx":4},
 "encoding":{"x":{"datum":811.75,"type":"quantitative"},"y":{"field":"p","type":"quantitative"},"text":{"field":"s"}}}
]
}
